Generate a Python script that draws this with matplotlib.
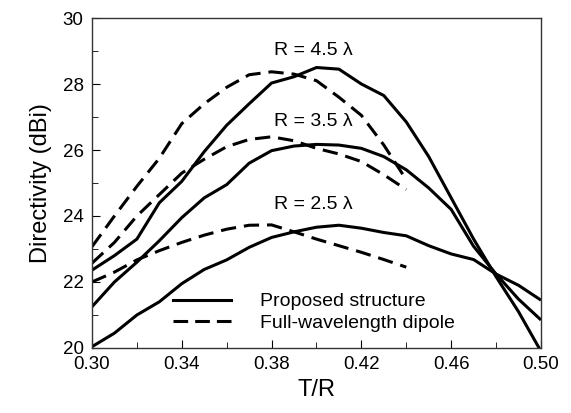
import numpy as np
import matplotlib.pyplot as plt
from matplotlib.ticker import FixedLocator, MultipleLocator, FormatStrFormatter

plt.rcParams['font.family'] = ['Liberation Sans', 'DejaVu Sans']

# T/R samples
tr_full = [0.30, 0.31, 0.32, 0.33, 0.34, 0.35, 0.36, 0.37, 0.38, 0.39, 0.40,
           0.41, 0.42, 0.43, 0.44, 0.45, 0.46, 0.47, 0.48, 0.49, 0.50]
tr_dipole = [0.30, 0.31, 0.32, 0.33, 0.34, 0.35, 0.36, 0.37, 0.38, 0.39, 0.40,
             0.41, 0.42, 0.43, 0.44]

# proposed structure (solid)
prop_45 = [22.36, 22.8, 23.3, 24.4, 25.05, 25.95, 26.75, 27.4, 28.03, 28.22, 28.5,
           28.45, 28.0, 27.65, 26.85, 25.8, 24.55, 23.3, 22.16, 21.1, 19.9]
prop_35 = [21.25, 22.0, 22.6, 23.25, 23.95, 24.55, 24.95, 25.6, 25.98, 26.12, 26.17,
           26.15, 26.05, 25.8, 25.4, 24.85, 24.2, 23.08, 22.24, 21.48, 20.85]
prop_25 = [20.04, 20.45, 21.0, 21.4, 21.95, 22.38, 22.67, 23.05, 23.35, 23.52, 23.66,
           23.72, 23.63, 23.5, 23.4, 23.1, 22.85, 22.68, 22.24, 21.9, 21.45]

# full-wavelength dipole (dashed)
dip_45 = [23.07, 24.0, 24.9, 25.75, 26.8, 27.4, 27.9, 28.28, 28.37, 28.3, 28.1,
          27.6, 27.05, 26.15, 25.1]
dip_35 = [22.57, 23.2, 24.0, 24.65, 25.3, 25.72, 26.1, 26.32, 26.4, 26.28, 26.05,
          25.88, 25.65, 25.25, 24.8]
dip_25 = [22.0, 22.3, 22.67, 22.95, 23.2, 23.42, 23.6, 23.72, 23.73, 23.52, 23.3,
          23.1, 22.9, 22.68, 22.45]

labels = ['R = 4.5 \u03bb', 'R = 3.5 \u03bb', 'R = 2.5 \u03bb']
label_y = [29.02, 26.85, 24.35]

x_ticks = [0.30, 0.34, 0.38, 0.42, 0.46, 0.50]
x_minor = [0.32, 0.36, 0.40, 0.44, 0.48]

fig = plt.figure(figsize=(5.71, 4.13), dpi=100)
ax = fig.add_axes([0.1611, 0.1574, 0.7863, 0.7990])

lw = 2.2
dash = (5.0, 2.6)
for s in [prop_45, prop_35, prop_25]:
    ax.plot(tr_full, s, color='black', lw=lw, solid_capstyle='butt',
            solid_joinstyle='round')
for d in [dip_45, dip_35, dip_25]:
    ax.plot(tr_dipole, d, color='black', lw=lw, linestyle=(0, dash))

for txt, y in zip(labels, label_y):
    ax.text(0.381, y, txt, fontsize=14, va='center', ha='left')

h1, = ax.plot([], [], color='black', lw=lw)
h2, = ax.plot([], [], color='black', lw=lw, linestyle=(0, (4.8, 2.3)))
ax.legend([h1, h2], ['Proposed structure', 'Full-wavelength dipole'],
          loc='center left', bbox_to_anchor=(0.18, 0.108), frameon=False,
          fontsize=14, handlelength=3.0, handletextpad=1.5,
          labelspacing=0.2, borderpad=0, borderaxespad=0)

ax.set_xlim(0.30, 0.50)
ax.set_ylim(20, 30)
ax.xaxis.set_major_locator(FixedLocator(x_ticks))
ax.xaxis.set_minor_locator(FixedLocator(x_minor))
ax.yaxis.set_major_locator(MultipleLocator(2))
ax.yaxis.set_minor_locator(MultipleLocator(1))
ax.xaxis.set_major_formatter(FormatStrFormatter('%.2f'))
ax.tick_params(which='both', direction='in', labelsize=13.5, top=False, right=False)
ax.tick_params(which='major', length=6, pad=6)
ax.tick_params(which='minor', length=4)
for sp in ax.spines.values():
    sp.set_color('#333333')
    sp.set_linewidth(1.0)

ax.set_xlabel('T/R', fontsize=17, labelpad=4)
ax.set_ylabel('Directivity (dBi)', fontsize=17, labelpad=8)

fig.savefig('out.png', dpi=100)
